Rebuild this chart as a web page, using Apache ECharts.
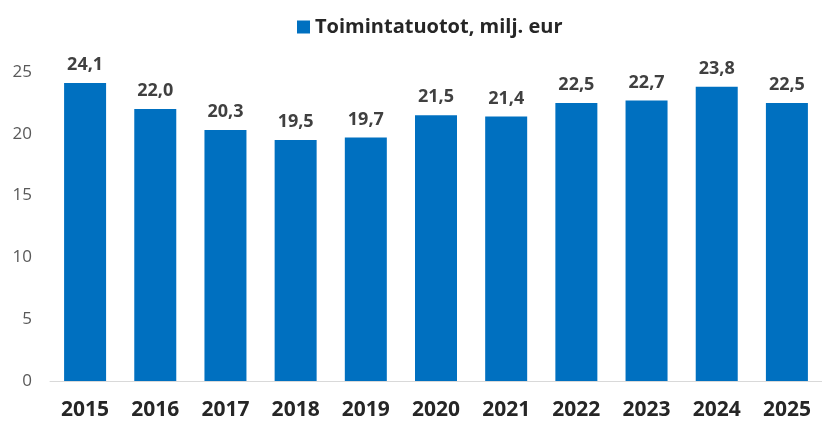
<!DOCTYPE html>
<html>
<head>
<meta charset="utf-8">
<script src="https://cdn.jsdelivr.net/npm/echarts@6/dist/echarts.min.js"></script>
<style>
  html, body { margin: 0; padding: 0; background: #fff; }
  #chart { width: 822px; height: 423px; }
</style>
</head>
<body>
<div id="chart"></div>
<script>
// vuodet ja toimintatuotot (milj. eur)
const years = ['2015', '2016', '2017', '2018', '2019', '2020', '2021', '2022', '2023', '2024', '2025']
const income = [24.1, 22.0, 20.3, 19.5, 19.7, 21.5, 21.4, 22.5, 22.7, 23.8, 22.5]
const yTicks = [0, 5, 10, 15, 20, 25]

const chart = echarts.init(document.getElementById('chart'))
chart.setOption({
  animation: false,
  textStyle: { fontFamily: 'Open Sans' },
  legend: {
    top: 12,
    left: 292,
    icon: 'rect',
    itemWidth: 13,
    itemHeight: 13,
    itemGap: 5,
    textStyle: { fontSize: 20, fontWeight: 'bold', color: '#262626' },
    data: ['Toimintatuotot, milj. eur']
  },
  grid: {
    top: 72,
    left: 50,
    right: -10,
    bottom: 42,
    containLabel: false
  },
  xAxis: {
    type: 'category',
    data: years,
    axisTick: { show: false },
    axisLine: { lineStyle: { color: '#d9d9d9', width: 1 } },
    axisLabel: {
      margin: 19,
      fontSize: 21,
      fontWeight: 'bold',
      color: '#262626'
    }
  },
  yAxis: {
    type: 'value',
    min: yTicks[0],
    max: yTicks[yTicks.length - 1],
    interval: 5,
    splitLine: { show: false },
    axisLine: { show: false },
    axisTick: { show: false },
    axisLabel: { margin: 18, fontSize: 17, color: '#595959' }
  },
  series: [
    {
      name: 'Toimintatuotot, milj. eur',
      type: 'bar',
      barWidth: 42,
      data: income,
      itemStyle: { color: '#0070C0' },
      label: {
        show: true,
        position: 'top',
        distance: 9,
        fontSize: 18,
        fontWeight: 'bold',
        color: '#404040',
        formatter: (p) => p.value.toFixed(1).replace('.', ',')
      }
    }
  ]
})
</script>
</body>
</html>
